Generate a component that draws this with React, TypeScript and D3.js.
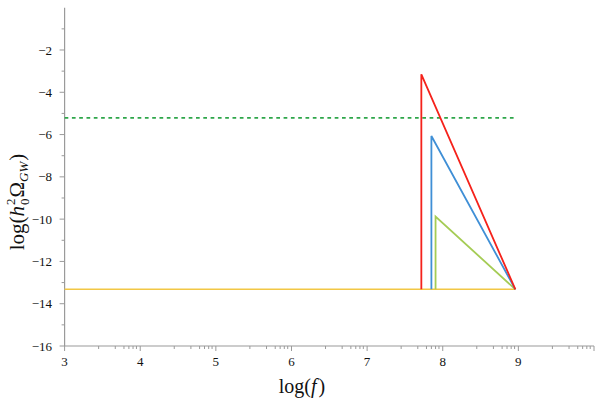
import React, { useEffect, useRef } from 'react';
import * as d3 from 'd3';

// values (log10 scale)
const xTicks = [3, 4, 5, 6, 7, 8, 9];
const xMinorOffsets = [0.45, 0.67, 0.785, 0.85, 0.905, 0.95];
const yTicks = [-2, -4, -6, -8, -10, -12, -14, -16];
const yMinor = [-1, -3, -5, -7, -9, -11, -13, -15];

const floorLevel = -13.32;
const bound = -5.21;
const boundX = [3, 8.96];
const apexX = 8.96;

const spikes = [
  { name: 'red', x: 7.717, top: -3.15, color: '#f5221b' },
  { name: 'blue', x: 7.85, top: -6.07, color: '#3f8fd6' },
  { name: 'green', x: 7.905, top: -9.88, color: '#a5cc55' },
];

const W = 599;
const H = 401;

const App = () => {
  const svgRef = useRef<SVGSVGElement>(null);

  useEffect(() => {
    const svg = d3.select(svgRef.current);
    svg.selectAll('*').remove();

    const x = d3.scaleLinear().domain([3, 10]).range([64.6, 594]);
    const y = d3.scaleLinear().domain([-16, 0]).range([346, 7.7]);
    const axisColor = '#9a9a9a';
    const font = "'Liberation Serif', 'DejaVu Serif', serif";

    // axes lines
    svg.append('line')
      .attr('x1', x(3)).attr('x2', x(10))
      .attr('y1', y(-16)).attr('y2', y(-16))
      .attr('stroke', axisColor).attr('stroke-width', 1.2);
    svg.append('line')
      .attr('x1', x(3)).attr('x2', x(3))
      .attr('y1', y(-16)).attr('y2', y(0))
      .attr('stroke', axisColor).attr('stroke-width', 1.2);

    // x ticks
    const xMajor = [...xTicks, 10];
    xMajor.forEach(t => {
      svg.append('line')
        .attr('x1', x(t)).attr('x2', x(t))
        .attr('y1', y(-16)).attr('y2', y(-16) + 5)
        .attr('stroke', axisColor);
    });
    xTicks.forEach(t => {
      xMinorOffsets.forEach(o => {
        svg.append('line')
          .attr('x1', x(t + o)).attr('x2', x(t + o))
          .attr('y1', y(-16)).attr('y2', y(-16) + 3)
          .attr('stroke', axisColor);
      });
    });
    xTicks.forEach(t => {
      svg.append('text')
        .attr('x', x(t)).attr('y', y(-16) + 20)
        .attr('text-anchor', 'middle')
        .style('font-family', font).style('font-size', '13px')
        .attr('fill', '#111')
        .text(t);
    });

    // y ticks
    yTicks.forEach(t => {
      svg.append('line')
        .attr('x1', x(3) - 5).attr('x2', x(3))
        .attr('y1', y(t)).attr('y2', y(t))
        .attr('stroke', axisColor);
      svg.append('text')
        .attr('x', 52).attr('y', y(t)).attr('dy', '0.35em')
        .attr('text-anchor', 'end')
        .style('font-family', font).style('font-size', '13px')
        .attr('fill', '#111')
        .text(String(t).replace('-', '\u2212'));
    });
    yMinor.forEach(t => {
      svg.append('line')
        .attr('x1', x(3) - 3).attr('x2', x(3))
        .attr('y1', y(t)).attr('y2', y(t))
        .attr('stroke', axisColor);
    });

    // upper bound, dashed
    svg.append('line')
      .attr('x1', x(boundX[0])).attr('x2', x(boundX[1]))
      .attr('y1', y(bound)).attr('y2', y(bound))
      .attr('stroke', '#2ea64a').attr('stroke-width', 1.6)
      .attr('stroke-dasharray', '3.7,3.6');

    // floor line
    svg.append('line')
      .attr('x1', x(3)).attr('x2', x(apexX))
      .attr('y1', y(floorLevel)).attr('y2', y(floorLevel))
      .attr('stroke', '#f2c744').attr('stroke-width', 1.5);

    const line = d3.line<[number, number]>().x(d => x(d[0])).y(d => y(d[1]));
    spikes.slice().reverse().forEach(s => {
      svg.append('path')
        .attr('d', line([[s.x, floorLevel], [s.x, s.top], [apexX, floorLevel]]))
        .attr('fill', 'none')
        .attr('stroke', s.color)
        .attr('stroke-width', 1.8)
        .attr('stroke-linejoin', 'miter');
    });

    // axis titles
    const xl = svg.append('text')
      .attr('x', 302).attr('y', 393)
      .attr('text-anchor', 'middle')
      .style('font-family', font).style('font-size', '20px')
      .attr('fill', '#111');
    xl.append('tspan').text('log(');
    xl.append('tspan').attr('font-style', 'italic').text('f');
    xl.append('tspan').attr('dx', 2).text(')');

    const yl = svg.append('text')
      .attr('transform', 'translate(24,202) rotate(-90)')
      .attr('text-anchor', 'middle')
      .style('font-family', font).style('font-size', '21px')
      .attr('fill', '#111');
    yl.append('tspan').text('log(');
    yl.append('tspan').attr('font-style', 'italic').text('h');
    yl.append('tspan').attr('font-size', '13px').attr('dx', 1).attr('dy', 5).text('0');
    yl.append('tspan').attr('font-size', '13px').attr('dx', -6.5).attr('dy', -14).text('2');
    yl.append('tspan').attr('dx', 1).attr('dy', 9).text('Ω');
    yl.append('tspan').attr('font-size', '13px').attr('font-style', 'italic').attr('dy', 4).text('GW');
    yl.append('tspan').attr('dx', 1).attr('dy', -4).text(')');
  }, []);

  return (
    <svg
      ref={svgRef}
      width={W}
      height={H}
      style={{ position: 'absolute', left: 0, top: 0, background: '#fff' }}
    />
  );
};

export default App;
